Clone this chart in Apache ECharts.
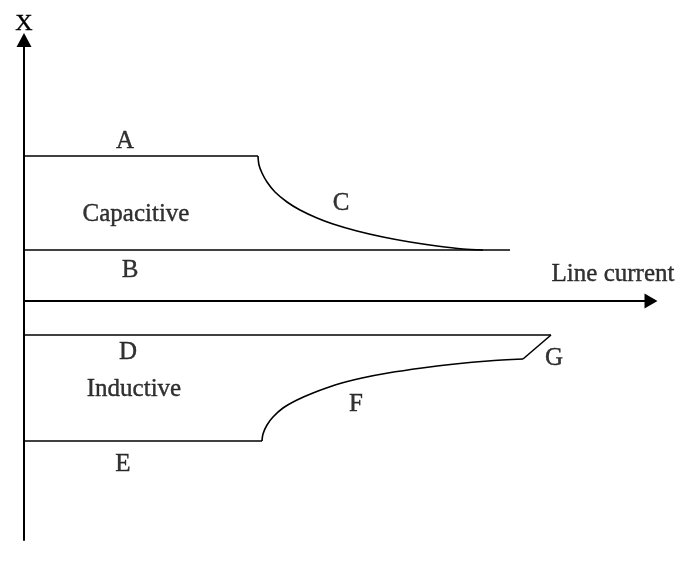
<!DOCTYPE html>
<html>
<head>
<meta charset="utf-8">
<script src="https://cdn.jsdelivr.net/npm/echarts@6/dist/echarts.min.js"></script>
<style>
  html, body { margin: 0; padding: 0; background: #fff; }
  #chart { width: 680px; height: 564px; }
</style>
</head>
<body>
<div id="chart"></div>
<script>
// x = distance along line current, y = reactance X (diagram units)
const lineA = [[0, 145], [234, 145]];
const curveC = [[234, 145], [235, 136], [238, 128], [243, 119], [251, 109], [263, 99], [276, 91], [293, 83],
  [309, 77], [333, 70], [359, 64], [386, 59], [413, 55], [439, 52], [459, 51]];
const lineB = [[0, 51], [486, 51]];
const lineD = [[0, -34], [527, -34]];
const lineG = [[527, -34], [499, -58]];
const curveF = [[238, -140], [239, -133], [243, -124], [249, -116], [259, -107], [273, -99], [289, -92],
  [311, -84], [338, -77], [364, -72], [398, -67], [431, -63], [464, -60], [499, -58]];
const lineE = [[0, -140], [238, -140]];

const labels = [
  { name: 'A', value: [101, 160] },
  { name: 'C', value: [317, 98] },
  { name: 'Capacitive', value: [112, 87] },
  { name: 'B', value: [106, 31] },
  { name: 'Line current', value: [589, 27] },
  { name: 'D', value: [104, -51] },
  { name: 'Inductive', value: [110, -88] },
  { name: 'F', value: [332, -103] },
  { name: 'E', value: [99, -163] },
  { name: 'G', value: [530, -57] }
];

const chart = echarts.init(document.getElementById('chart'));

const lineStyle = { color: '#000', width: 1.6 };
const seg = (data, smooth) => ({
  type: 'line',
  data: data,
  smooth: smooth || false,
  symbol: 'none',
  lineStyle: lineStyle,
  silent: true
});

chart.setOption({
  backgroundColor: '#fff',
  animation: false,
  textStyle: { fontFamily: 'Liberation Serif' },
  grid: { left: 24, top: 40, width: 627, height: 500 },
  xAxis: {
    type: 'value',
    min: 0,
    max: 627,
    axisLine: {
      onZero: true,
      lineStyle: { color: '#000', width: 2 },
      symbol: ['none', 'triangle'],
      symbolSize: [15, 13]
    },
    axisTick: { show: false },
    axisLabel: { show: false },
    splitLine: { show: false }
  },
  yAxis: {
    type: 'value',
    min: -239,
    max: 261,
    name: 'X',
    nameLocation: 'end',
    nameGap: 4,
    nameTextStyle: {
      color: '#000', fontSize: 24, fontFamily: 'Liberation Serif', align: 'center',
      textBorderColor: '#000', textBorderWidth: 0.4
    },
    axisLine: {
      onZero: false,
      lineStyle: { color: '#000', width: 2 },
      symbol: ['none', 'triangle'],
      symbolSize: [15, 14]
    },
    axisTick: { show: false },
    axisLabel: { show: false },
    splitLine: { show: false }
  },
  series: [
    seg(lineA),
    seg(curveC, 0.3),
    seg(lineB),
    seg(lineD),
    seg(lineG),
    seg(curveF, 0.3),
    seg(lineE),
    {
      type: 'scatter',
      data: labels,
      symbolSize: 0,
      silent: true,
      label: {
        show: true,
        position: 'inside',
        formatter: '{b}',
        color: '#000',
        fontSize: 25,
        fontFamily: 'Liberation Serif',
        textBorderColor: '#000',
        textBorderWidth: 0.4
      }
    }
  ]
});
</script>
</body>
</html>
